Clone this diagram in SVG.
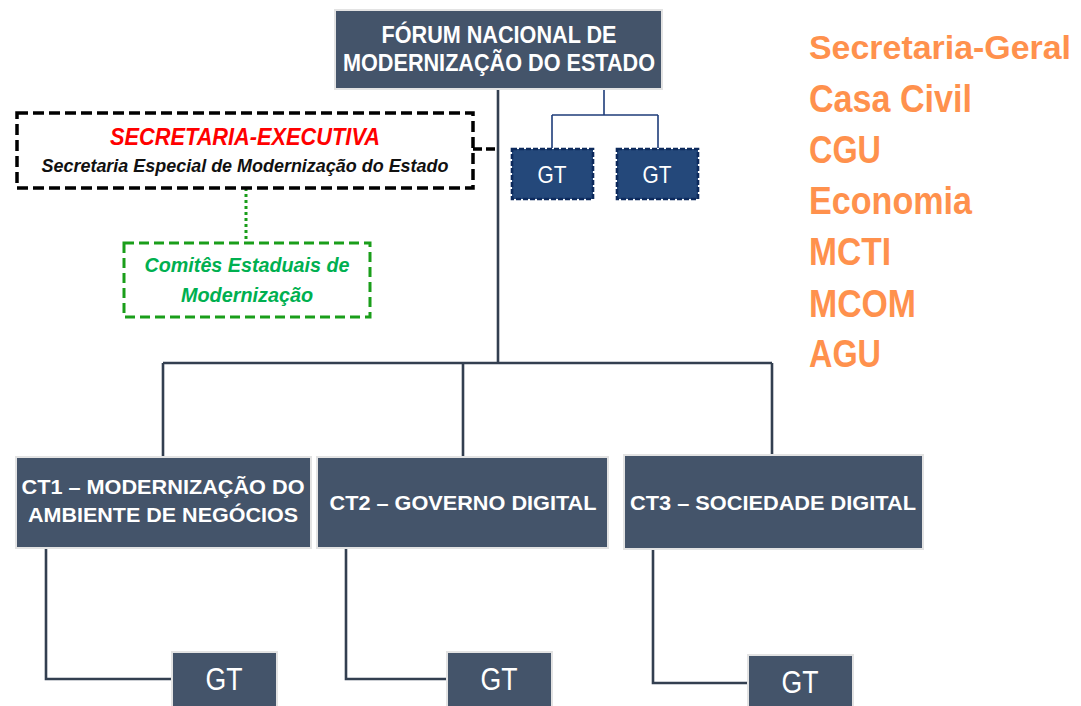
<svg xmlns="http://www.w3.org/2000/svg" width="1081" height="706" viewBox="0 0 1081 706">
<style>
.box{fill:#44546a;stroke:#e3e3e3;stroke-width:2}
.wt{fill:#fff;font-family:"Liberation Sans",Arial,sans-serif;font-weight:bold;text-anchor:middle}
.gt{fill:#fff;font-family:"Liberation Sans",Arial,sans-serif;text-anchor:middle}
.ln{fill:none;stroke:#333f50;stroke-width:2.6}
.or{fill:#ff914d;font-family:"Liberation Sans",Arial,sans-serif;font-weight:bold;font-size:38px}
.gts{fill:#24487a;stroke:#0d2a5c;stroke-width:2.6;stroke-dasharray:5 2}
</style>
<rect width="1081" height="706" fill="#fff"/>
<g id="connectors">
<path class="ln" d="M498 89V363M163 363H772M163 363V456M463 363V456M772 363V455"/>
<path fill="none" stroke="#1f3d7a" stroke-width="1.6" d="M604 89V115M552 115H658M552 115V148M658 115V148"/>
<path fill="none" stroke="#000" stroke-width="3.5" stroke-dasharray="9 4" d="M473 149H498"/>
<path fill="none" stroke="#1a9e1a" stroke-width="3" stroke-dasharray="3 3" d="M246 188V242"/>
<path class="ln" d="M46 548V679H172M346 548V679H447M653 549V683H748"/>
</g>
<g id="forum">
<rect class="box" x="335" y="10" width="327" height="79"/>
<text class="wt" x="499" y="43" font-size="23" textLength="235" lengthAdjust="spacingAndGlyphs">FÓRUM NACIONAL DE</text>
<text class="wt" x="499" y="71" font-size="23" textLength="312" lengthAdjust="spacingAndGlyphs">MODERNIZAÇÃO DO ESTADO</text>
</g>
<g id="gt-top-1">
<rect class="gts" x="512" y="149" width="81" height="50"/>
<text class="gt" x="552" y="183" font-size="24" textLength="29" lengthAdjust="spacingAndGlyphs">GT</text>
</g>
<g id="gt-top-2">
<rect class="gts" x="617" y="149" width="81" height="50"/>
<text class="gt" x="657" y="183" font-size="24" textLength="29" lengthAdjust="spacingAndGlyphs">GT</text>
</g>
<g id="secretaria-executiva">
<rect x="17" y="113" width="456" height="75" fill="#fff" stroke="#000" stroke-width="3.5" stroke-dasharray="11 5"/>
<text x="245" y="145" font-family="'Liberation Sans',Arial,sans-serif" font-weight="bold" font-style="italic" font-size="23" fill="#ff0000" text-anchor="middle" textLength="270" lengthAdjust="spacingAndGlyphs">SECRETARIA-EXECUTIVA</text>
<text x="245" y="172" font-family="'Liberation Sans',Arial,sans-serif" font-weight="bold" font-style="italic" font-size="18" fill="#111" text-anchor="middle" textLength="407" lengthAdjust="spacingAndGlyphs">Secretaria Especial de Modernização do Estado</text>
</g>
<g id="comites">
<rect x="124" y="243" width="246" height="74" fill="#fff" stroke="#1a9e1a" stroke-width="3" stroke-dasharray="10 5"/>
<text x="247" y="272" font-family="'Liberation Sans',Arial,sans-serif" font-weight="bold" font-style="italic" font-size="20" fill="#00b050" text-anchor="middle" textLength="205" lengthAdjust="spacingAndGlyphs">Comitês Estaduais de</text>
<text x="247" y="302" font-family="'Liberation Sans',Arial,sans-serif" font-weight="bold" font-style="italic" font-size="20" fill="#00b050" text-anchor="middle" textLength="132" lengthAdjust="spacingAndGlyphs">Modernização</text>
</g>
<g id="ct1">
<rect class="box" x="16" y="457" width="295" height="91"/>
<text class="wt" x="163" y="494" font-size="21" textLength="283" lengthAdjust="spacingAndGlyphs">CT1 – MODERNIZAÇÃO DO</text>
<text class="wt" x="163" y="522" font-size="21" textLength="270" lengthAdjust="spacingAndGlyphs">AMBIENTE DE NEGÓCIOS</text>
</g>
<g id="ct2">
<rect class="box" x="317" y="457" width="291" height="91"/>
<text class="wt" x="463" y="510" font-size="21" textLength="267" lengthAdjust="spacingAndGlyphs">CT2 – GOVERNO DIGITAL</text>
</g>
<g id="ct3">
<rect class="box" x="624" y="455" width="299" height="94"/>
<text class="wt" x="773" y="510" font-size="21" textLength="286" lengthAdjust="spacingAndGlyphs">CT3 – SOCIEDADE DIGITAL</text>
</g>
<g id="gt-ct1">
<rect class="box" x="172" y="652" width="105" height="60"/>
<text class="gt" x="224" y="690" font-size="31" textLength="37" lengthAdjust="spacingAndGlyphs">GT</text>
</g>
<g id="gt-ct2">
<rect class="box" x="447" y="652" width="105" height="60"/>
<text class="gt" x="499" y="690" font-size="31" textLength="37" lengthAdjust="spacingAndGlyphs">GT</text>
</g>
<g id="gt-ct3">
<rect class="box" x="748" y="655" width="105" height="60"/>
<text class="gt" x="800" y="693" font-size="31" textLength="37" lengthAdjust="spacingAndGlyphs">GT</text>
</g>
<g id="members">
<text class="or" x="809" y="59" style="font-size:34px" textLength="262" lengthAdjust="spacingAndGlyphs">Secretaria-Geral</text>
<text class="or" x="809" y="112" textLength="163" lengthAdjust="spacingAndGlyphs">Casa Civil</text>
<text class="or" x="809" y="163" textLength="72" lengthAdjust="spacingAndGlyphs">CGU</text>
<text class="or" x="809" y="214" textLength="163" lengthAdjust="spacingAndGlyphs">Economia</text>
<text class="or" x="809" y="265" textLength="82" lengthAdjust="spacingAndGlyphs">MCTI</text>
<text class="or" x="809" y="317" textLength="107" lengthAdjust="spacingAndGlyphs">MCOM</text>
<text class="or" x="809" y="367" textLength="72" lengthAdjust="spacingAndGlyphs">AGU</text>
</g>
</svg>
